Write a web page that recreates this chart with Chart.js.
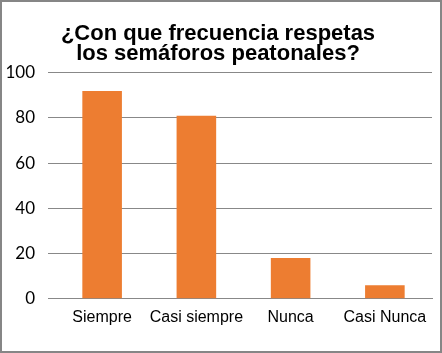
<!DOCTYPE html>
<html>
<head>
<meta charset="utf-8">
<script src="https://cdn.jsdelivr.net/npm/chart.js@4/dist/chart.umd.min.js"></script>
<style>
  body { margin: 0; background: #fff; }
  #wrap { width: 442px; height: 353px; box-sizing: border-box; border: 2px solid #868686; }
</style>
</head>
<body>
<div id="wrap"><canvas id="myChart" width="438" height="349"></canvas></div>
<script>
// data
var categories = ["Siempre", "Casi siempre", "Nunca", "Casi Nunca"];
var values = [92, 81, 18, 6];
var titleLines = ["¿Con que frecuencia respetas", "los semáforos peatonales?"];

var ctx = document.getElementById('myChart').getContext('2d');

var chart1 = new Chart(ctx, {
    type: 'bar',
    data: {
        labels: categories,
        datasets: [{
            label: "Frecuencia",
            backgroundColor: '#ED7D31',
            data: values,
            categoryPercentage: 1,
            barPercentage: 0.42
        }]
    },
    options: {
        responsive: false,
        animation: false,
        layout: { padding: { left: 2, right: 8, top: 0, bottom: 23 } },
        plugins: {
            legend: { display: false },
            tooltip: { enabled: false },
            title: {
                display: true,
                text: titleLines,
                color: '#000',
                font: { family: 'Liberation Sans', size: 22, weight: 'bold', lineHeight: 0.95 },
                padding: { top: 21, bottom: 8 }
            }
        },
        scales: {
            x: {
                grid: { display: false },
                border: { color: '#888' },
                ticks: {
                    color: '#000',
                    font: { family: 'Liberation Sans', size: 16 },
                    padding: 1,
                    maxRotation: 0,
                    autoSkip: false
                }
            },
            y: {
                min: 0,
                max: 100,
                afterFit: function (axis) { axis.width = 51; },
                ticks: {
                    stepSize: 20,
                    color: '#000',
                    font: { family: 'Lato', size: 17 },
                    padding: 13
                },
                grid: { color: '#888', tickLength: 7 },
                border: { display: false }
            }
        }
    }
});
</script>
</body>
</html>
